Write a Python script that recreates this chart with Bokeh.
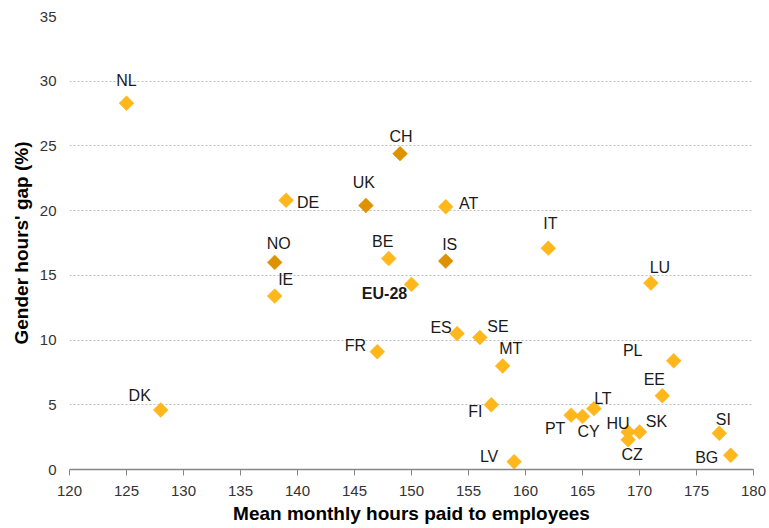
from bokeh.plotting import figure
from bokeh.models import ColumnDataSource, FixedTicker, Range1d
from bokeh.core.properties import value
from bokeh.embed import file_html
from bokeh.resources import INLINE
import math

countries = ["NL", "CH", "UK", "DE", "AT", "NO", "BE", "IS", "IT", "IE", "EU-28", "LU",
             "ES", "SE", "FR", "MT", "PL", "EE", "DK", "FI", "LT", "PT", "CY", "HU",
             "SK", "CZ", "SI", "BG", "LV"]
hours = [125, 149, 146, 139, 153, 138, 148, 153, 162, 138, 150, 171,
         154, 156, 147, 158, 173, 172, 128, 157, 166, 164, 165, 169,
         170, 169, 177, 178, 159]
gap = [28.3, 24.4, 20.4, 20.8, 20.3, 16.0, 16.3, 16.1, 17.1, 13.4, 14.3, 14.4,
       10.5, 10.2, 9.1, 8.0, 8.4, 5.7, 4.6, 5.0, 4.7, 4.2, 4.1, 2.9,
       2.9, 2.3, 2.8, 1.1, 0.6]
non_eu = ["CH", "UK", "NO", "IS"]
x_ticks = [120, 125, 130, 135, 140, 145, 150, 155, 160, 165, 170, 175, 180]
y_ticks = [0, 5, 10, 15, 20, 25, 30, 35]

# label placement (pixel offsets of the label centre from the marker)
label_offsets = {
    "NL": (0, -23), "CH": (1, -17), "UK": (-2, -23), "DE": (22, 2), "AT": (23, -3),
    "NO": (4, -19), "BE": (-6, -17), "IS": (4, -17), "IT": (2, -25), "IE": (11, -17),
    "EU-28": (-27, 9), "LU": (9, -16), "ES": (-16, -6), "SE": (18, -11), "FR": (-22, -6),
    "MT": (8, -17), "PL": (-41, -10), "EE": (-8, -16), "DK": (-21, -14), "FI": (-16, 7),
    "LT": (9, -10), "PT": (-16, 13), "CY": (6, 15), "HU": (-10, -8), "SK": (17, -10),
    "CZ": (4, 15), "SI": (4, -14), "BG": (-24, 2), "LV": (-25, -5),
}

LIGHT = "#FFB71C"
DARK = "#DE9200"

colors = [DARK if c in non_eu else LIGHT for c in countries]
src = ColumnDataSource(dict(x=hours, y=gap, c=colors, name=countries,
                            dx=[label_offsets[c][0] for c in countries],
                            dy=[label_offsets[c][1] for c in countries],
                            fs=["bold" if c == "EU-28" else "normal" for c in countries]))

p = figure(width=768, height=526, output_backend="svg", toolbar_location=None,
           x_range=Range1d(120, 180), y_range=Range1d(0, 35),
           min_border_left=69, min_border_right=15, min_border_top=16, min_border_bottom=40)
p.outline_line_color = None
p.background_fill_color = "white"

p.xgrid.grid_line_color = None
p.ygrid.grid_line_color = "#BFBFBF"
p.ygrid.grid_line_dash = "2 2"
p.ygrid.grid_line_width = 1

p.xaxis.ticker = FixedTicker(ticks=x_ticks)
p.yaxis.ticker = FixedTicker(ticks=y_ticks)
p.xaxis.minor_tick_line_color = None
p.yaxis.minor_tick_line_color = None
p.xaxis.axis_line_color = "#868686"
p.xaxis.axis_line_width = 1.5
p.xaxis.major_tick_line_color = "#868686"
p.xaxis.major_tick_out = 6
p.xaxis.major_tick_in = 0
p.yaxis.axis_line_color = None
p.yaxis.major_tick_line_color = None
p.yaxis.major_tick_out = 0
p.yaxis.major_tick_in = 0

for ax in (p.xaxis, p.yaxis):
    ax.major_label_text_font = "Liberation Sans"
    ax.major_label_text_font_size = "15px"
    ax.major_label_text_color = "#333333"
    ax.axis_label_text_font = "Liberation Sans"
    ax.axis_label_text_font_size = "19px"
    ax.axis_label_text_font_style = "bold"
    ax.axis_label_text_color = "#000000"

p.xaxis.axis_label = "Mean monthly hours paid to employees"
p.yaxis.axis_label = "Gender hours' gap (%)"
p.xaxis.major_label_standoff = 10
p.yaxis.major_label_standoff = 13
p.xaxis.axis_label_standoff = 4
p.yaxis.axis_label_standoff = 5

p.scatter("x", "y", source=src, marker="square", size=10.5, angle=math.pi / 4,
          fill_color="c", line_color="c", line_width=0.5)

p.text("x", "y", text="name", source=src, x_offset="dx", y_offset="dy",
       text_align="center", text_baseline="middle",
       text_font=value("Liberation Sans"), text_font_size="16px",
       text_font_style="fs", text_color="#1A1A1A")

open("out.html", "w").write(file_html(p, INLINE))
